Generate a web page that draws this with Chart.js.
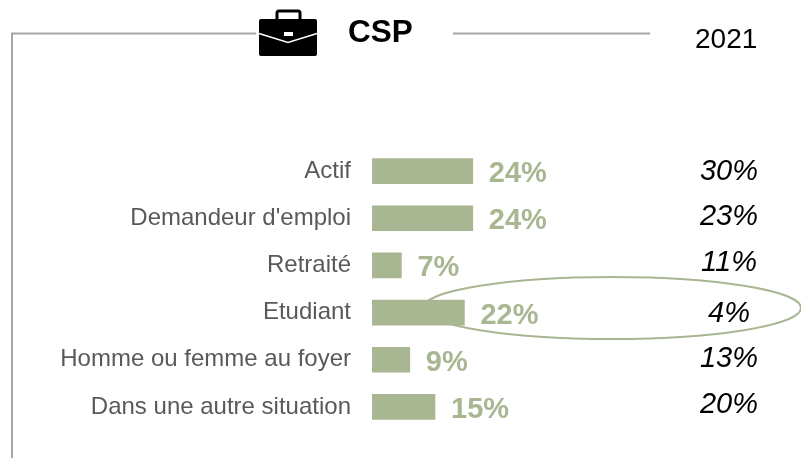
<!DOCTYPE html>
<html><head><meta charset="utf-8">
<style>html,body{margin:0;padding:0;background:#fff}#w{position:relative;width:801px;height:458px}</style>
<script src="https://cdn.jsdelivr.net/npm/chart.js@4"></script>
</head><body><div id="w"><canvas id="c" width="801" height="458"></canvas></div>
<script>
const categories=["Actif","Demandeur d'emploi","Retraité","Etudiant","Homme ou femme au foyer","Dans une autre situation"];
const values2022=[24,24,7,22,9,15];
const values2021=[30,23,11,4,13,20];
const titleText="CSP";
const yearText="2021";
const FF='"Liberation Sans", Arial, sans-serif';
const GREEN='#a9b692', GREY='#a6a6a6';
const col2021Offset=[1,-1,-2,1,-1,-2];
const decor={id:'decor',
 beforeDatasetsDraw(ch){
  const c=ch.ctx;c.save();
  c.strokeStyle=GREY;c.lineWidth=2;
  c.beginPath();c.moveTo(256,33.5);c.lineTo(12,33.5);c.lineTo(12,458);c.stroke();
  c.beginPath();c.moveTo(453,33.5);c.lineTo(650,33.5);c.stroke();
  c.strokeStyle=GREEN;c.lineWidth=2;
  c.beginPath();c.ellipse(612,308,189,31,0,0,Math.PI*2);c.stroke();
  // briefcase
  c.fillStyle='#000';
  c.beginPath();c.roundRect(259,19,58,37,2);c.fill();
  c.strokeStyle='#000';c.lineWidth=3;
  c.beginPath();c.roundRect(277,11,23,10,2);c.stroke();
  c.strokeStyle='#fff';c.lineWidth=1.6;
  c.beginPath();c.moveTo(259,33.5);c.lineTo(288,42.5);c.lineTo(317,33.5);c.stroke();
  c.fillStyle='#fff';c.fillRect(284,32,9,4);
  c.fillStyle='#000';c.textBaseline='middle';
  c.font='bold 31.5px '+FF;c.textAlign='left';c.fillText(titleText,348,33);
  c.font='28px '+FF;c.fillText(yearText,695,40);
  c.restore();
 },
 afterDatasetsDraw(ch){
  const c=ch.ctx,x=ch.scales.x,y=ch.scales.y;c.save();
  c.textBaseline='middle';c.textAlign='left';
  values2022.forEach((v,i)=>{
   c.font='bold 29px '+FF;c.fillStyle=GREEN;
   c.fillText(v+'%',x.getPixelForValue(v)+16,y.getPixelForValue(i)+3);
  });
  c.textAlign='center';c.font='italic 29px '+FF;c.fillStyle='#000';
  values2021.forEach((v,i)=>{
   c.fillText(v+'%',729,y.getPixelForValue(i)+col2021Offset[i]);
  });
  c.restore();
 }};
new Chart(document.getElementById('c'),{
 type:'bar',
 data:{labels:categories,datasets:[{data:values2022,backgroundColor:GREEN,barThickness:25,borderWidth:0}]},
 plugins:[decor],
 options:{indexAxis:'y',responsive:false,animation:false,
  layout:{padding:{left:0,right:9,top:147.5,bottom:27.5}},
  plugins:{legend:{display:false},tooltip:{enabled:false},title:{display:false}},
  scales:{
   x:{display:false,min:0,max:100},
   y:{afterFit(s){s.width=372;s.paddingTop=0;s.paddingBottom=0},grid:{display:false,drawTicks:false},border:{display:false},
      ticks:{color:'#595959',padding:21,font:{family:FF,size:24},crossAlign:'near'}}
  }}
});
</script></body></html>
